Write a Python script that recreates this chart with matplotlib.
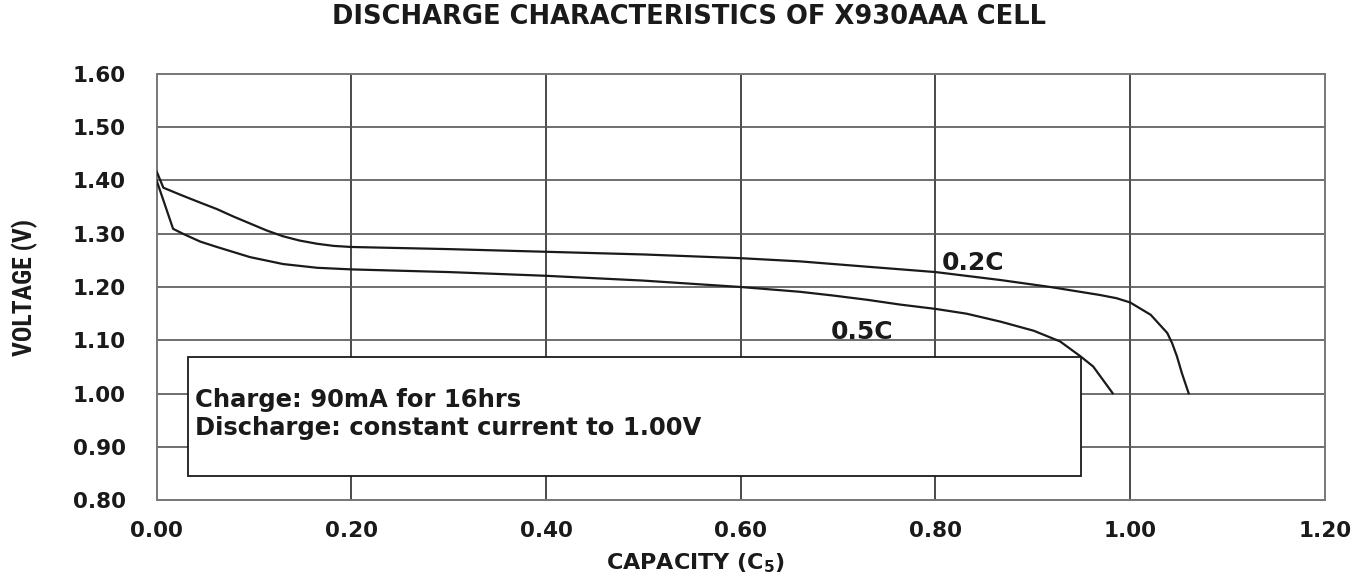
import matplotlib
matplotlib.use("Agg")
import matplotlib.pyplot as plt
from matplotlib import font_manager
from matplotlib.patches import Rectangle

# 0.2C discharge curve (capacity C5, voltage V)
cap02 = [0.000, 0.007, 0.027, 0.045, 0.062, 0.079, 0.096, 0.113, 0.130, 0.147,
         0.165, 0.182, 0.200, 0.250, 0.300, 0.400, 0.500, 0.600, 0.661, 0.730,
         0.800, 0.867, 0.918, 0.969, 0.986, 1.000, 1.010, 1.021, 1.029, 1.038,
         1.043, 1.048, 1.053, 1.060]
volt02 = [1.417, 1.386, 1.371, 1.358, 1.346, 1.332, 1.319, 1.306, 1.295, 1.287,
          1.281, 1.277, 1.275, 1.273, 1.271, 1.266, 1.261, 1.254, 1.248, 1.238,
          1.228, 1.213, 1.200, 1.185, 1.179, 1.171, 1.160, 1.148, 1.132, 1.114,
          1.095, 1.070, 1.039, 1.001]

# 0.5C discharge curve
cap05 = [0.000, 0.017, 0.028, 0.045, 0.062, 0.096, 0.130, 0.165, 0.200, 0.300,
         0.400, 0.500, 0.600, 0.661, 0.695, 0.730, 0.764, 0.800, 0.832, 0.867,
         0.901, 0.928, 0.949, 0.962, 0.982]
volt05 = [1.400, 1.309, 1.299, 1.285, 1.275, 1.256, 1.243, 1.236, 1.233, 1.228,
          1.221, 1.212, 1.200, 1.191, 1.184, 1.176, 1.167, 1.159, 1.150, 1.135,
          1.118, 1.098, 1.070, 1.051, 1.001]

xticks = [0.0, 0.2, 0.4, 0.6, 0.8, 1.0, 1.2]
yticks = [0.8, 0.9, 1.0, 1.1, 1.2, 1.3, 1.4, 1.5, 1.6]

title = "DISCHARGE CHARACTERISTICS OF X930AAA CELL"
note1 = "Charge: 90mA for 16hrs"
note2 = "Discharge: constant current to 1.00V"

# a condensed face for the y label if one is installed
names = {f.name for f in font_manager.fontManager.ttflist}
narrow, ysize = "Liberation Sans", 16.5
for cand in ["Liberation Sans Narrow", "Roboto Condensed", "Open Sans Condensed",
             "Noto Sans Condensed", "DejaVu Sans Condensed"]:
    if cand in names:
        narrow, ysize = cand, 18.5
        break

plt.rcParams['font.family'] = ['DejaVu Sans']
plt.rcParams['font.weight'] = 'bold'
plt.rcParams['mathtext.fontset'] = 'custom'
plt.rcParams['mathtext.rm'] = 'DejaVu Sans:bold'
plt.rcParams['mathtext.bf'] = 'DejaVu Sans:bold'

ink = '#1a1a1a'

fig = plt.figure(figsize=(13.72, 5.78), dpi=100)
ax = fig.add_axes([0.1141, 0.1341, 0.8516, 0.7387])

ax.set_xlim(0, 1.2)
ax.set_ylim(0.8, 1.6)
ax.set_xticks(xticks)
ax.set_yticks(yticks)
ax.set_xticklabels([f"{v:.2f}" for v in xticks])
ax.set_yticklabels([f"{v:.2f}" for v in yticks])
ax.tick_params(length=0, labelsize=15.5, colors=ink)
ax.tick_params(axis='y', pad=22)
ax.tick_params(axis='x', pad=15)

for x in xticks[1:-1]:
    ax.axvline(x, color='#2a2a2a', lw=1.2, zorder=1)
for y in yticks[1:-1]:
    ax.axhline(y, color='#555555', lw=1.2, zorder=1)
for s in ax.spines.values():
    s.set_color('#777777')
    s.set_linewidth(1.4)

# note box
ax.add_patch(Rectangle((0.032, 0.846), 0.917, 0.223, facecolor='white',
                       edgecolor=ink, lw=1.3, zorder=2))
ax.text(0.040, 0.975, note1, fontsize=17.5, fontweight='bold', color=ink,
        va='baseline', zorder=3)
ax.text(0.040, 0.923, note2, fontsize=17.5, fontweight='bold', color=ink,
        va='baseline', zorder=3)

ax.plot(cap02, volt02, color=ink, lw=1.6, zorder=4)
ax.plot(cap05, volt05, color=ink, lw=1.6, zorder=4)

ax.text(0.806, 1.232, "0.2C", fontsize=18, fontweight='bold', color=ink,
        va='baseline', zorder=5)
ax.text(0.692, 1.102, "0.5C", fontsize=18, fontweight='bold', color=ink,
        va='baseline', zorder=5)

ax.set_xlabel(r"CAPACITY (C$\mathregular{_5}$)", fontsize=16, fontweight='bold',
              color=ink)
ax.xaxis.set_label_coords(0.4613, -0.120)
ax.xaxis.label.set_va('top')

ax.set_ylabel("VOLTAGE (V)", fontsize=ysize, fontweight='bold', family=narrow,
              color=ink)
ax.yaxis.label.set_va('center')
ax.yaxis.set_label_coords(-0.1128, 0.5)

fig.text(689 / 1372, 1 - 17.5 / 578, title, fontsize=18.5, fontweight='bold',
         ha='center', va='center', color=ink)

fig.savefig("out.png", dpi=100, facecolor='white')
